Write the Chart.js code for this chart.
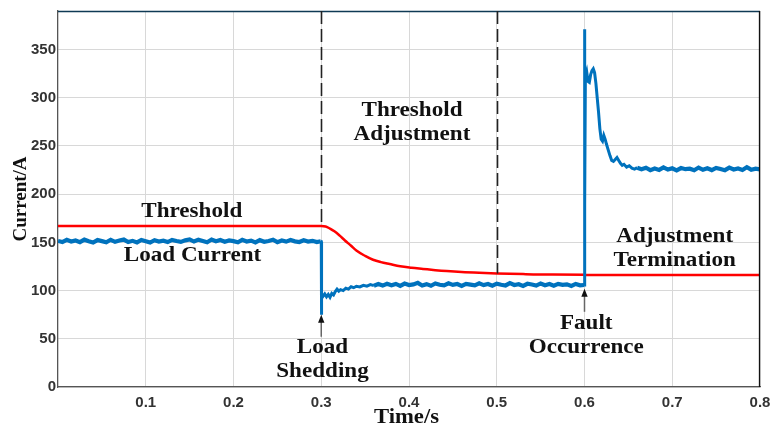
<!DOCTYPE html>
<html>
<head>
<meta charset="utf-8">
<script src="https://cdn.jsdelivr.net/npm/chart.js@4/dist/chart.umd.min.js"></script>
<style>
  html, body { margin: 0; padding: 0; background: #ffffff; }
</style>
</head>
<body>
<canvas id="chart" width="778" height="426"></canvas>
<script>
// ---- Axis ticks ----
const xTickValues = [0.1, 0.2, 0.3, 0.4, 0.5, 0.6, 0.7, 0.8];
const xTickLabels = ['0.1', '0.2', '0.3', '0.4', '0.5', '0.6', '0.7', '0.8'];
const yTickValues = [0, 50, 100, 150, 200, 250, 300, 350];
const yTickLabels = ['0', '50', '100', '150', '200', '250', '300', '350'];

// ---- Load current: uniformly sampled stretches (start time, sample step, values) ----
const sampleStep = 0.005;
const preShedStart = 0;
const preShedCurrent = [
  151.5,150.3,152.6,150.9,152.0,150.2,152.8,151.1,149.9,152.4,
  151.3,150.1,152.7,150.6,151.9,152.9,150.4,151.6,150.0,152.5,
  151.2,149.8,152.3,150.8,151.7,150.3,152.6,151.4,150.5,152.1,
  153.1,150.9,152.8,151.5,150.2,153.0,151.2,152.4,150.7,152.0,
  151.3,150.1,152.6,150.9,151.8,149.9,152.3,150.6,151.5,152.7,
  150.2,151.9,150.8,152.4,151.1,150.4,152.2,150.9,151.6,150.3
];
// load shedding transient
const shedTime = [0.2995, 0.3, 0.3002, 0.3005, 0.302, 0.304, 0.306, 0.308, 0.31, 0.312, 0.314, 0.316, 0.318, 0.32, 0.322, 0.325, 0.328, 0.331, 0.334, 0.337, 0.34, 0.344, 0.348, 0.352, 0.356, 0.36];
const shedCurrent = [151.2, 151.0, 75, 97, 94, 96.5, 93.5, 96, 93, 97, 95.5, 99, 101.5, 99.5, 101, 100, 102.5, 101.5, 104, 103, 104.5, 103.8, 105.5, 104.6, 106.2, 105.1];
const postShedStart = 0.365;
const postShedCurrent = [
  106.8,105.2,107.1,105.6,106.9,104.9,107.3,105.8,106.4,108.0,
  105.3,106.7,105.0,107.4,106.1,105.5,107.6,105.9,106.8,104.8,
  107.0,106.2,105.4,107.5,105.7,106.9,105.1,107.2,106.0,105.3,
  107.7,105.8,106.6,104.9,107.1,106.3,105.2,107.4,105.6,106.8,
  105.0,107.0,105.9,106.5,104.8,106.9,105.5
];
// fault transient
const faultTime = [0.5995, 0.6, 0.6004, 0.601, 0.6025, 0.604, 0.6055, 0.607, 0.6085, 0.61, 0.6115, 0.613, 0.6145, 0.616, 0.6175, 0.619, 0.6205, 0.622, 0.6235, 0.625, 0.627, 0.629, 0.631, 0.633, 0.635, 0.637, 0.639, 0.641, 0.643, 0.645, 0.648, 0.651, 0.654, 0.657, 0.66];
const faultCurrent = [105.8, 371, 190, 322, 327, 317, 316, 324, 328, 330, 326, 315, 300, 285, 268, 257, 255, 261, 257, 252, 246, 240, 235, 234, 236, 238, 235, 232, 230, 231, 228, 229.5, 227, 226, 227.5];
const postFaultStart = 0.665;
const postFaultCurrent = [
  225.8,227.4,224.9,226.6,225.2,227.8,225.5,226.9,224.7,227.1,
  225.9,226.4,224.8,227.6,225.3,226.8,225.0,227.3,226.1,224.9,
  227.5,225.6,226.7,225.1,227.9,225.4,226.5,225.7
];

// ---- Protection threshold ----
const thresholdTime  = [0, 0.3, 0.305, 0.31, 0.315, 0.321, 0.327, 0.334, 0.34, 0.35, 0.359, 0.368, 0.378, 0.39, 0.403, 0.416, 0.43, 0.443, 0.46, 0.48, 0.5, 0.53, 0.56, 0.6, 0.601, 0.8];
const thresholdValue = [167, 167, 166.5, 164.3, 161.5, 157, 152, 146.5, 141.5, 136, 132, 129.5, 127.5, 125.2, 123.7, 122.5, 121.2, 120.2, 119.2, 118.4, 117.8, 117.1, 116.7, 116.5, 116.2, 116.2];

// ---- Annotations ----
const boundaryTime  = [0.3, 0.5];
const boundaryEnd   = [167, 117.8];
const arrowTime     = [0.3, 0.6];
const arrowFrom     = [52, 78];
const arrowTo       = [75, 102];
const noteLines     = [['Threshold'], ['Load Current'], ['Threshold', 'Adjustment'], ['Load', 'Shedding'], ['Fault', 'Occurrence'], ['Adjustment', 'Termination']];
const noteTime      = [0.1524, 0.1533, 0.4034, 0.3014, 0.602, 0.7028];
const noteValue     = [176.7, 131, 281, 35.6, 59.7, 150.9];

// assemble {x, y} points; transient samples are drawn with a thinner stroke
const transientIndex = new Set();
const loadPoints = [];
function addSampled(start, values) {
  values.forEach((v, i) => loadPoints.push({ x: +(start + i * sampleStep).toFixed(4), y: v }));
}
function addTransient(times, values) {
  times.forEach((t, i) => {
    transientIndex.add(loadPoints.length);
    loadPoints.push({ x: t, y: values[i] });
  });
}
addSampled(preShedStart, preShedCurrent);
addTransient(shedTime, shedCurrent);
addSampled(postShedStart, postShedCurrent);
addTransient(faultTime, faultCurrent);
addSampled(postFaultStart, postFaultCurrent);
const thresholdPoints = thresholdTime.map((t, i) => ({ x: t, y: thresholdValue[i] }));

const serifBold = '"Liberation Serif", "Times New Roman", serif';
const sansBold = '"Liberation Sans", Arial, sans-serif';

const overlay = {
  id: 'overlay',
  afterDatasetsDraw(chart) {
    const { ctx, chartArea: a, scales: { x, y } } = chart;
    ctx.save();
    // frame: top and right edges
    ctx.lineWidth = 1.3;
    ctx.strokeStyle = '#0f3a55';
    ctx.beginPath(); ctx.moveTo(a.left, a.top + 0.5); ctx.lineTo(a.right, a.top + 0.5); ctx.stroke();
    ctx.strokeStyle = '#111111';
    ctx.beginPath(); ctx.moveTo(a.right - 0.5, a.top); ctx.lineTo(a.right - 0.5, a.bottom); ctx.stroke();

    // phase boundaries
    ctx.strokeStyle = '#222222';
    ctx.lineWidth = 1.6;
    ctx.setLineDash([13, 5]);
    boundaryTime.forEach((t, i) => {
      const px = Math.round(x.getPixelForValue(t)) + 0.5;
      ctx.beginPath();
      ctx.moveTo(px, a.top);
      ctx.lineTo(px, y.getPixelForValue(boundaryEnd[i]));
      ctx.stroke();
    });
    ctx.setLineDash([]);

    // event arrows
    arrowTime.forEach((t, i) => {
      const px = x.getPixelForValue(t);
      const y0 = y.getPixelForValue(arrowFrom[i]);
      const y1 = y.getPixelForValue(arrowTo[i]);
      ctx.strokeStyle = '#666666';
      ctx.lineWidth = 1.5;
      ctx.beginPath(); ctx.moveTo(px, y0); ctx.lineTo(px, y1 + 6); ctx.stroke();
      ctx.fillStyle = '#111111';
      ctx.beginPath();
      ctx.moveTo(px, y1);
      ctx.lineTo(px - 3.2, y1 + 8);
      ctx.lineTo(px + 3.2, y1 + 8);
      ctx.closePath();
      ctx.fill();
    });

    // text notes
    ctx.fillStyle = '#111111';
    ctx.font = 'bold 21px ' + serifBold;
    ctx.textAlign = 'center';
    ctx.textBaseline = 'alphabetic';
    noteLines.forEach((lines, i) => {
      const cx = x.getPixelForValue(noteTime[i]);
      const by = y.getPixelForValue(noteValue[i]);
      lines.forEach((line, k) => {
        ctx.save();
        ctx.translate(cx, by + k * 24);
        ctx.scale(1.1, 1);
        ctx.fillText(line, 0, 0);
        ctx.restore();
      });
    });

    // axis titles
    ctx.font = 'bold 21px ' + serifBold;
    ctx.save();
    ctx.translate((a.left + a.right) / 2 - 2.5, 423);
    ctx.scale(1.08, 1);
    ctx.fillText('Time/s', 0, 0);
    ctx.restore();
    ctx.save();
    ctx.translate(26, (a.top + a.bottom) / 2);
    ctx.rotate(-Math.PI / 2);
    ctx.font = 'bold 19px ' + serifBold;
    ctx.fillText('Current/A', 0, 0);
    ctx.restore();
    ctx.restore();
  }
};

new Chart(document.getElementById('chart'), {
  type: 'line',
  data: {
    datasets: [
      {
        label: 'Load Current', data: loadPoints, borderColor: '#0072BD', borderWidth: 4,
        tension: 0, pointRadius: 0, borderJoinStyle: 'miter',
        segment: { borderWidth: c => (transientIndex.has(c.p0DataIndex) && transientIndex.has(c.p1DataIndex)) ? 3 : 4.2 }
      },
      { label: 'Threshold', data: thresholdPoints, borderColor: '#FF0000', borderWidth: 2.5, cubicInterpolationMode: 'monotone', pointRadius: 0 }
    ]
  },
  options: {
    responsive: false,
    animation: false,
    devicePixelRatio: 1,
    layout: { padding: { left: 0, right: 18, top: 8, bottom: 0 } },
    plugins: { legend: { display: false }, tooltip: { enabled: false } },
    scales: {
      x: {
        type: 'linear', min: 0, max: 0.8,
        afterFit(s) { s.height = 39; },
        afterBuildTicks(s) { s.ticks = xTickValues.map(v => ({ value: v })); },
        ticks: {
          color: '#333333', padding: 7, maxRotation: 0, autoSkip: false,
          font: { family: sansBold, weight: 'bold', size: 15 },
          callback: (v, i) => xTickLabels[i]
        },
        grid: { color: '#d8d8d8', lineWidth: 1, drawTicks: false },
        border: { color: '#555555', width: 1.3 }
      },
      y: {
        min: 0, max: 390,
        afterFit(s) { s.width = 58; },
        afterBuildTicks(s) { s.ticks = yTickValues.map(v => ({ value: v })); },
        ticks: {
          color: '#333333', padding: 2, autoSkip: false,
          font: { family: sansBold, weight: 'bold', size: 15 },
          callback: (v, i) => yTickLabels[i]
        },
        grid: { color: '#d8d8d8', lineWidth: 1, drawTicks: false },
        border: { color: '#555555', width: 1.3 }
      }
    }
  },
  plugins: [overlay]
});
</script>
</body>
</html>
